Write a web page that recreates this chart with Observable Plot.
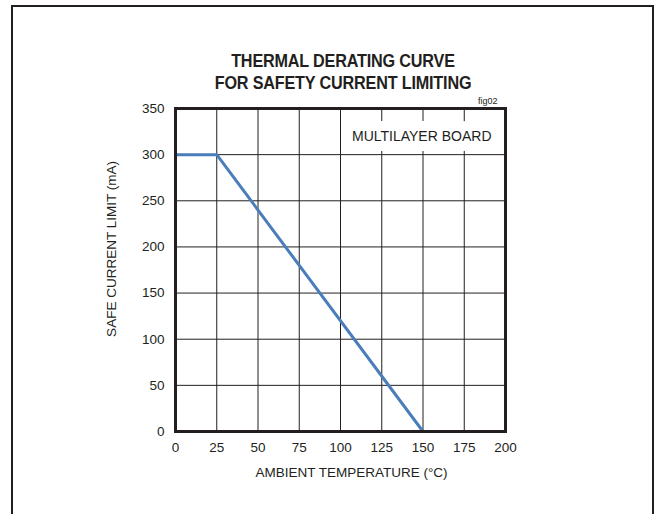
<!DOCTYPE html>
<html>
<head>
<meta charset="utf-8">
<script src="https://cdn.jsdelivr.net/npm/d3@7"></script>
<script src="https://cdn.jsdelivr.net/npm/@observablehq/plot@0.6"></script>
<style>
  html, body { margin: 0; padding: 0; background: #fff; }
  #wrap { position: relative; width: 656px; height: 514px; overflow: hidden; font-family: "Liberation Sans", Arial, sans-serif; }
  #border { position: absolute; left: 11px; top: 5px; width: 643px; height: 530px; border: 2px solid #231f20; box-sizing: border-box; }
  #title { position: absolute; left: 143px; width: 400px; top: 50px; text-align: center; font-weight: bold; font-size: 18.5px; line-height: 22px; color: #231f20; letter-spacing: -0.2px; transform: scaleX(0.875); transform-origin: 200px 0; }
  #chart { position: absolute; left: 0; top: 0; }
</style>
</head>
<body>
<div id="wrap">
  <div id="border"></div>
  <div id="chart"></div>
  <div id="title">THERMAL DERATING CURVE<br>FOR SAFETY CURRENT LIMITING</div>
</div>
<script>
// Data
const temperature = [0, 25, 150];           // °C
const currentLimit = [300, 300, 0];         // mA
const xTicks = [0, 25, 50, 75, 100, 125, 150, 175, 200];
const yTicks = [0, 50, 100, 150, 200, 250, 300, 350];
const xLabel = "AMBIENT TEMPERATURE (°C)";
const yLabel = "SAFE CURRENT LIMIT (mA)";
const boardNote = "MULTILAYER BOARD";
const figTag = "fig02";

const data = temperature.map((t, i) => ({t, c: currentLimit[i]}));
const font = '"Liberation Sans", Arial, sans-serif';

const chart = Plot.plot({
  width: 656,
  height: 514,
  marginLeft: 175,
  marginRight: 151,
  marginTop: 108,
  marginBottom: 83,
  style: {fontFamily: font, fontSize: "13.5px", color: "#231f20", background: "transparent"},
  x: {domain: [0, 200], ticks: xTicks},
  y: {domain: [0, 350], ticks: yTicks},
  marks: [
    Plot.ruleX(xTicks.slice(1, -1), {stroke: "#231f20", strokeWidth: 1}),
    Plot.ruleY(yTicks.slice(1, -1), {stroke: "#231f20", strokeWidth: 1}),
    Plot.text([boardNote], {frameAnchor: "top-right", dx: -14, dy: 23, text: d => d, fontSize: 14, fill: "#231f20", stroke: "white", strokeWidth: 20, textAnchor: "end"}),
    Plot.text([figTag], {frameAnchor: "top-right", dx: -8, dy: -11, text: d => d, fontSize: 9, fill: "#231f20", textAnchor: "end"}),
    Plot.line(data, {x: "t", y: "c", stroke: "#4a7ebb", strokeWidth: 3}),
    Plot.frame({stroke: "#231f20", strokeWidth: 3}),
    Plot.axisX({ticks: xTicks, tickSize: 0, tickPadding: 11, fontSize: 13.5, label: null}),
    Plot.axisY({ticks: yTicks, tickSize: 0, tickPadding: 11, fontSize: 13.5, label: null}),
    Plot.text([xLabel], {frameAnchor: "bottom", dx: 11, dy: 45, text: d => d, fontSize: 13.5, fill: "#231f20"}),
    Plot.text([yLabel], {frameAnchor: "left", dx: -64, dy: -21, rotate: -90, textAnchor: "middle", text: d => d, fontSize: 13.5, fill: "#231f20"})
  ]
});
document.getElementById("chart").appendChild(chart);
</script>
</body>
</html>
